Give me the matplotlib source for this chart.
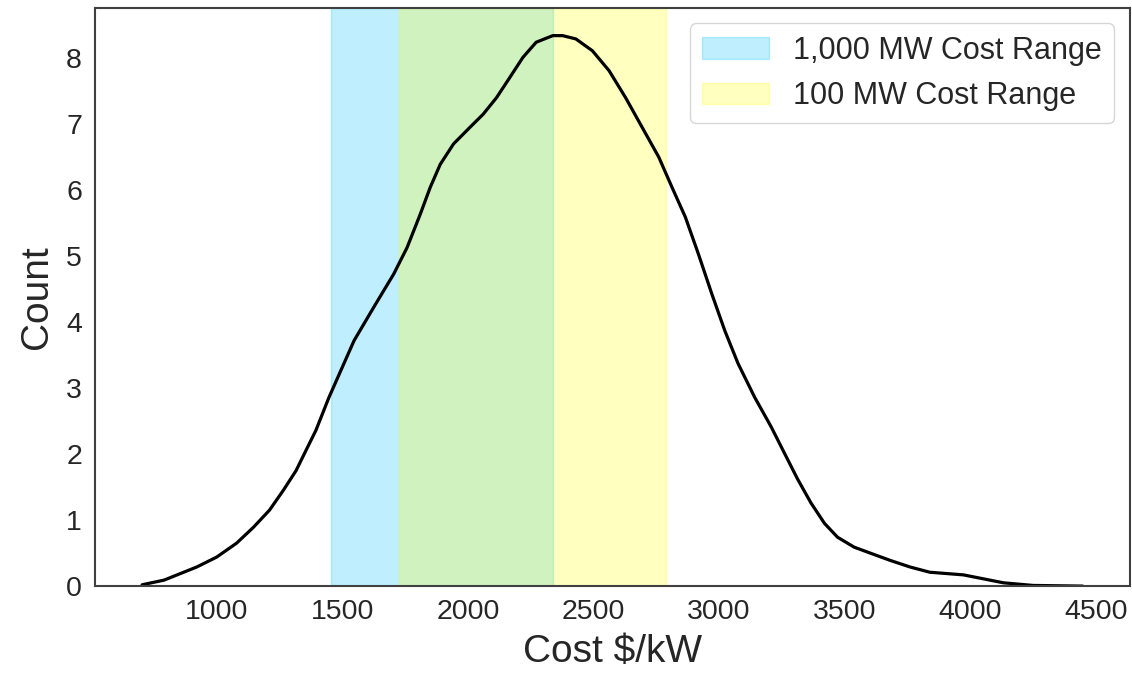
import matplotlib
matplotlib.use('Agg')
import matplotlib.pyplot as plt
import seaborn as sns

# KDE curve (cost $/kW vs count)
cost = [703, 790, 921, 1000, 1079, 1146, 1210, 1265, 1316, 1356, 1395, 1447,
        1547, 1626, 1705, 1758, 1811, 1850, 1890, 1943, 2008, 2061, 2114, 2166,
        2219, 2272, 2338, 2377, 2430, 2496, 2562, 2628, 2694, 2760, 2813, 2866,
        2918, 2971, 3023, 3076, 3142, 3208, 3261, 3313, 3366, 3420, 3472, 3538,
        3602, 3681, 3760, 3839, 3973, 4132, 4250, 4448]
count = [0.02, 0.09, 0.29, 0.44, 0.65, 0.89, 1.15, 1.45, 1.75, 2.06, 2.36, 2.86,
         3.72, 4.23, 4.73, 5.13, 5.64, 6.04, 6.39, 6.70, 6.95, 7.15, 7.40, 7.70,
         8.01, 8.24, 8.34, 8.34, 8.29, 8.11, 7.81, 7.40, 6.95, 6.50, 6.04, 5.59,
         5.03, 4.43, 3.87, 3.37, 2.86, 2.41, 2.01, 1.62, 1.26, 0.95, 0.74, 0.59,
         0.50, 0.39, 0.29, 0.21, 0.17, 0.05, 0.01, 0.0]

# cost ranges
range_1000mw = (1455, 2340)
range_100mw = (1727, 2787)

sns.set_style('white')
plt.rcParams['font.family'] = ['Liberation Sans', 'DejaVu Sans']

fig = plt.figure(figsize=(11.32, 6.76), dpi=100)
ax = fig.add_axes([0.084, 0.133, 0.914, 0.855])

ax.axvspan(*range_1000mw, color='deepskyblue', alpha=0.25, label='1,000 MW Cost Range')
ax.axvspan(*range_100mw, color='yellow', alpha=0.25, label='100 MW Cost Range')
ax.plot(cost, count, color='black', lw=2.3, solid_joinstyle='round')

ax.set_ylim(0, max(count) * 1.05)
ax.margins(x=0.05)
ax.set_xticks([1000, 1500, 2000, 2500, 3000, 3500, 4000, 4500])
ax.set_yticks(range(0, 9))
ax.tick_params(labelsize=20.5, pad=6)
ax.set_xlabel('Cost $/kW', fontsize=28, labelpad=6)
ax.set_ylabel('Count', fontsize=28, labelpad=8)
for s in ax.spines.values():
    s.set_color('0.25')
    s.set_linewidth(1.5)

ax.legend(loc='upper right', fontsize=22, handlelength=2.2)

fig.savefig('out.png', dpi=100)
